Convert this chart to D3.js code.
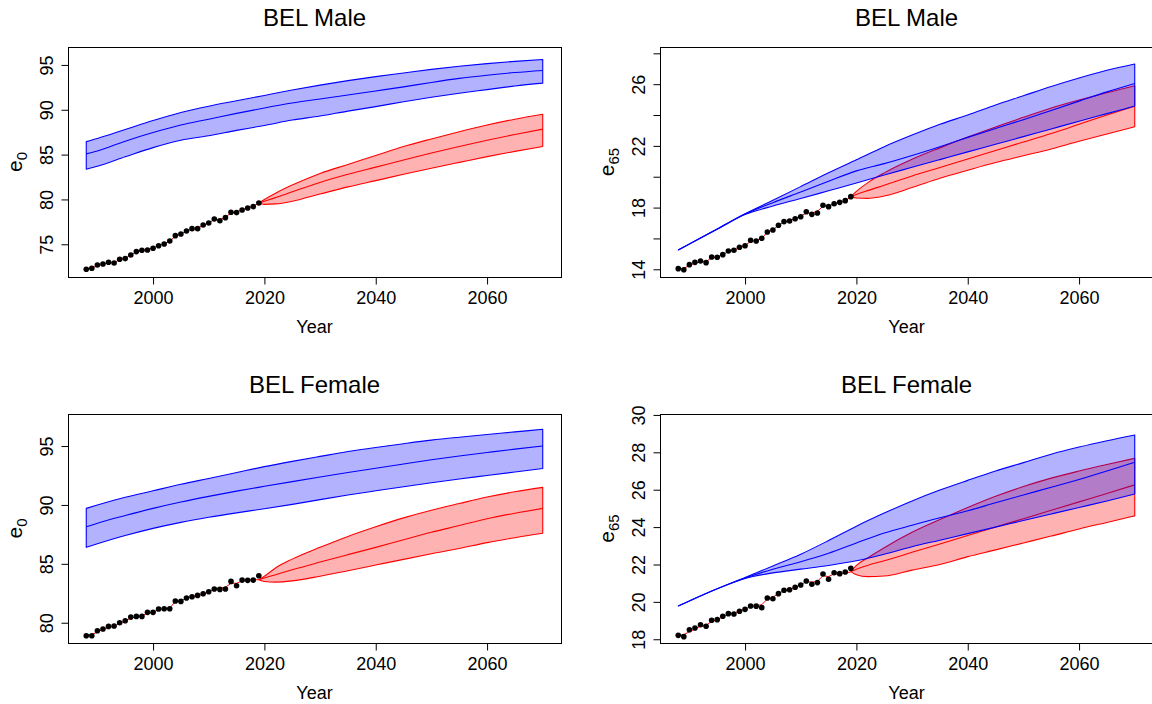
<!DOCTYPE html>
<html>
<head>
<meta charset="utf-8">
<script src="https://cdn.jsdelivr.net/npm/d3@7"></script>
<style>
  body { margin: 0; background: #fff; }
  svg { display: block; }
  text { font-family: "Liberation Sans", Arial, sans-serif; fill: #000; }
</style>
</head>
<body>
<svg width="1152" height="704"></svg>
<script>
const obsYears = [1988, 1989, 1990, 1991, 1992, 1993, 1994, 1995, 1996, 1997, 1998, 1999, 2000, 2001, 2002, 2003,
  2004, 2005, 2006, 2007, 2008, 2009, 2010, 2011, 2012, 2013, 2014, 2015, 2016, 2017, 2018, 2019];
const bandYears = [1988, 1990, 1995, 2000, 2005, 2010, 2015, 2020, 2025, 2030, 2035, 2040, 2045, 2050, 2055, 2060, 2065, 2070];
const fcstYears = [2019, 2020, 2022, 2025, 2030, 2035, 2040, 2045, 2050, 2055, 2060, 2065, 2070];
const xTicks = [2000, 2020, 2040, 2060];

// BEL Male, e0
const maleE0Obs = [72.21, 72.32, 72.69, 72.8, 72.99, 72.91, 73.33, 73.4, 73.81, 74.18, 74.33, 74.36, 74.55, 74.84, 75.03, 75.37,
  75.96, 76.15, 76.48, 76.74, 76.74, 77.15, 77.38, 77.82, 77.63, 77.97, 78.57, 78.53, 78.83, 79.05, 79.2, 79.61];
const maleE0Fit = [72.25, 72.35, 72.6, 72.8, 72.9, 72.95, 73.3, 73.45, 73.8, 74.1, 74.3, 74.4, 74.6, 74.85, 75.05, 75.35,
  75.9, 76.15, 76.45, 76.7, 76.8, 77.1, 77.4, 77.75, 77.75, 78.0, 78.5, 78.6, 78.85, 79.05, 79.25, 79.6];
const maleE0BlueHi = [86.45, 86.8, 87.8, 88.8, 89.7, 90.4, 91.0, 91.6, 92.2, 92.75, 93.25, 93.7, 94.1, 94.5, 94.85, 95.15, 95.4, 95.6];
const maleE0BlueMed = [85.08, 85.4, 86.5, 87.46, 88.3, 88.95, 89.6, 90.2, 90.75, 91.2, 91.65, 92.1, 92.55, 93.05, 93.5, 93.85, 94.15, 94.38];
const maleE0BlueLo = [83.37, 83.7, 84.75, 85.78, 86.6, 87.1, 87.7, 88.25, 88.85, 89.3, 89.85, 90.35, 90.9, 91.4, 91.85, 92.25, 92.65, 92.97];
const maleE0RedHi = [79.6, 80.0, 80.7, 81.6, 82.9, 83.9, 84.9, 85.9, 86.75, 87.55, 88.3, 88.95, 89.5];
const maleE0RedMed = [79.6, 79.8, 80.2, 80.85, 81.9, 82.8, 83.6, 84.4, 85.17, 85.9, 86.6, 87.25, 87.84];
const maleE0RedLo = [79.6, 79.45, 79.5, 79.8, 80.6, 81.4, 82.1, 82.8, 83.48, 84.13, 84.77, 85.36, 85.9];

// BEL Male, e65
const maleE65Obs = [14.04, 13.97, 14.3, 14.45, 14.54, 14.43, 14.8, 14.78, 14.95, 15.19, 15.23, 15.43, 15.53, 15.88, 15.83, 16.01,
  16.42, 16.55, 16.85, 17.09, 17.13, 17.28, 17.41, 17.73, 17.56, 17.65, 18.15, 18.06, 18.25, 18.34, 18.45, 18.71];
const maleE65Fit = [14.05, 14.05, 14.25, 14.4, 14.5, 14.5, 14.75, 14.8, 14.95, 15.15, 15.25, 15.4, 15.55, 15.8, 15.85, 16.0,
  16.4, 16.55, 16.85, 17.05, 17.15, 17.3, 17.45, 17.65, 17.65, 17.75, 18.1, 18.1, 18.25, 18.35, 18.45, 18.7];
const maleE65BlueHi = [15.25, 15.64, 16.62, 17.6, 18.47, 19.36, 20.26, 21.1, 21.95, 22.7, 23.4, 24.0, 24.65, 25.25, 25.85, 26.4, 26.9, 27.31];
const maleE65BlueMed = [15.25, 15.64, 16.61, 17.58, 18.32, 19.01, 19.71, 20.38, 20.85, 21.38, 21.95, 22.55, 23.13, 23.7, 24.3, 24.9, 25.5, 26.05];
const maleE65BlueLo = [15.25, 15.64, 16.6, 17.55, 18.1, 18.59, 19.09, 19.59, 20.11, 20.61, 21.11, 21.61, 22.1, 22.6, 23.1, 23.6, 24.09, 24.58];
const maleE65RedHi = [18.71, 19.05, 19.6, 20.25, 21.13, 21.87, 22.57, 23.23, 23.85, 24.46, 24.98, 25.45, 25.9];
const maleE65RedMed = [18.71, 18.85, 19.1, 19.45, 20.05, 20.6, 21.15, 21.7, 22.25, 22.8, 23.4, 24.0, 24.58];
const maleE65RedLo = [18.71, 18.62, 18.6, 18.75, 19.3, 19.9, 20.42, 20.92, 21.36, 21.8, 22.3, 22.77, 23.24];

// BEL Female, e0
const femaleE0Obs = [78.9, 78.9, 79.32, 79.47, 79.69, 79.72, 80.0, 80.17, 80.48, 80.54, 80.54, 80.88, 80.88, 81.16, 81.19, 81.19,
  81.84, 81.81, 82.1, 82.21, 82.32, 82.46, 82.63, 82.86, 82.83, 82.86, 83.51, 83.14, 83.62, 83.6, 83.62, 83.99];
const femaleE0Fit = [78.95, 79.0, 79.2, 79.45, 79.6, 79.7, 79.95, 80.15, 80.4, 80.5, 80.6, 80.8, 80.9, 81.1, 81.2, 81.25,
  81.8, 81.85, 82.1, 82.2, 82.3, 82.45, 82.6, 82.9, 82.95, 83.0, 83.35, 83.35, 83.55, 83.6, 83.65, 83.65];
const femaleE0BlueHi = [89.71, 90.0, 90.65, 91.2, 91.75, 92.25, 92.75, 93.25, 93.7, 94.12, 94.53, 94.88, 95.2, 95.5, 95.75, 95.98, 96.2, 96.42];
const femaleE0BlueMed = [88.15, 88.45, 89.1, 89.71, 90.25, 90.73, 91.17, 91.58, 91.98, 92.37, 92.75, 93.12, 93.48, 93.83, 94.15, 94.45, 94.74, 95.0];
const femaleE0BlueLo = [86.4, 86.7, 87.4, 88.01, 88.52, 88.95, 89.33, 89.68, 90.05, 90.45, 90.84, 91.2, 91.55, 91.88, 92.2, 92.5, 92.8, 93.1];
const femaleE0RedHi = [83.65, 83.95, 84.65, 85.4, 86.4, 87.33, 88.15, 88.9, 89.55, 90.12, 90.67, 91.12, 91.49];
const femaleE0RedMed = [83.65, 83.8, 84.08, 84.5, 85.15, 85.78, 86.4, 87.05, 87.68, 88.25, 88.83, 89.3, 89.71];
const femaleE0RedLo = [83.65, 83.5, 83.45, 83.55, 83.95, 84.42, 84.9, 85.38, 85.85, 86.3, 86.8, 87.22, 87.59];

// BEL Female, e65
const femaleE65Obs = [18.21, 18.14, 18.51, 18.6, 18.78, 18.7, 19.02, 19.05, 19.23, 19.37, 19.35, 19.5, 19.6, 19.78, 19.77, 19.69,
  20.21, 20.17, 20.44, 20.62, 20.65, 20.78, 20.9, 21.12, 20.94, 21.03, 21.49, 21.21, 21.56, 21.51, 21.6, 21.8];
const femaleE65Fit = [18.2, 18.25, 18.4, 18.55, 18.7, 18.75, 18.95, 19.05, 19.2, 19.35, 19.4, 19.5, 19.6, 19.75, 19.8, 19.85,
  20.15, 20.25, 20.45, 20.6, 20.65, 20.8, 20.9, 21.1, 21.05, 21.1, 21.4, 21.35, 21.5, 21.5, 21.55, 21.6];
const femaleE65BlueHi = [19.78, 20.05, 20.7, 21.3, 21.92, 22.55, 23.28, 24.05, 24.75, 25.4, 25.98, 26.5, 27.0, 27.45, 27.9, 28.28, 28.62, 28.93];
const femaleE65BlueMed = [19.78, 20.05, 20.7, 21.28, 21.75, 22.15, 22.6, 23.15, 23.68, 24.1, 24.5, 24.87, 25.3, 25.72, 26.13, 26.55, 27.0, 27.47];
const femaleE65BlueLo = [19.78, 20.05, 20.7, 21.25, 21.55, 21.75, 21.95, 22.2, 22.55, 22.95, 23.3, 23.65, 24.0, 24.35, 24.7, 25.05, 25.4, 25.77];
const femaleE65RedHi = [21.62, 21.95, 22.35, 22.9, 23.72, 24.4, 25.05, 25.65, 26.17, 26.62, 27.0, 27.35, 27.68];
const femaleE65RedMed = [21.62, 21.75, 21.95, 22.2, 22.65, 23.1, 23.55, 24.0, 24.45, 24.9, 25.35, 25.8, 26.26];
const femaleE65RedLo = [21.62, 21.45, 21.35, 21.38, 21.7, 22.0, 22.42, 22.78, 23.15, 23.52, 23.9, 24.25, 24.6];

const e0Ticks = [75, 80, 85, 90, 95];
const e0FemTicks = [80, 85, 90, 95];
const e65MaleTicks = [14, 16, 18, 20, 22, 24, 26, 28];
const e65MaleLabels = [14, 18, 22, 26];
const e65FemTicks = [18, 20, 22, 24, 26, 28, 30];

const svg = d3.select("svg");
const xlim = [1984.72, 2073.28];

const zip = (xs, ...cols) => xs.map((yr, i) => ({ year: yr, v: cols.map((c) => c[i]) }));

const panels = [
  { title: "BEL Male", sub: "0", left: 68, right: 561, top: 47, bottom: 277, ylim: [71.35, 97.0],
    ticks: e0Ticks, labels: e0Ticks, obs: maleE0Obs, fit: maleE0Fit,
    blue: zip(bandYears, maleE0BlueLo, maleE0BlueMed, maleE0BlueHi),
    red: zip(fcstYears, maleE0RedLo, maleE0RedMed, maleE0RedHi) },
  { title: "BEL Male", sub: "65", left: 660, right: 1153, top: 47, bottom: 277, ylim: [13.5, 28.41],
    ticks: e65MaleTicks, labels: e65MaleLabels, obs: maleE65Obs, fit: maleE65Fit,
    blue: zip(bandYears, maleE65BlueLo, maleE65BlueMed, maleE65BlueHi),
    red: zip(fcstYears, maleE65RedLo, maleE65RedMed, maleE65RedHi) },
  { title: "BEL Female", sub: "0", left: 68, right: 561, top: 414, bottom: 643, ylim: [78.28, 97.72],
    ticks: e0FemTicks, labels: e0FemTicks, obs: femaleE0Obs, fit: femaleE0Fit,
    blue: zip(bandYears, femaleE0BlueLo, femaleE0BlueMed, femaleE0BlueHi),
    red: zip(fcstYears, femaleE0RedLo, femaleE0RedMed, femaleE0RedHi) },
  { title: "BEL Female", sub: "65", left: 660, right: 1153, top: 414, bottom: 643, ylim: [17.8, 30.05],
    ticks: e65FemTicks, labels: e65FemTicks, obs: femaleE65Obs, fit: femaleE65Fit,
    blue: zip(bandYears, femaleE65BlueLo, femaleE65BlueMed, femaleE65BlueHi),
    red: zip(fcstYears, femaleE65RedLo, femaleE65RedMed, femaleE65RedHi) },
];

const drawBand = (g, x, y, rows, col, fill) => {
  const area = d3.area().curve(d3.curveMonotoneX)
    .x((d) => x(d.year)).y0((d) => y(d.v[0])).y1((d) => y(d.v[2]));
  const mid = d3.line().curve(d3.curveMonotoneX).x((d) => x(d.year)).y((d) => y(d.v[1]));
  g.append("path").attr("d", area(rows)).attr("fill", fill)
    .attr("stroke", col).attr("stroke-width", 1.1).attr("stroke-linejoin", "round");
  g.append("path").attr("d", mid(rows)).attr("fill", "none")
    .attr("stroke", col).attr("stroke-width", 1.1);
};

panels.forEach((p) => {
  const x = d3.scaleLinear().domain(xlim).range([p.left, p.right]);
  const y = d3.scaleLinear().domain(p.ylim).range([p.bottom, p.top]);
  const g = svg.append("g");

  drawBand(g, x, y, p.red, "#ff0000", "rgba(255,0,0,0.3)");
  drawBand(g, x, y, p.blue, "#0000ff", "rgba(0,0,255,0.3)");

  const fitLine = d3.line().x((d, i) => x(obsYears[i])).y((d) => y(d));
  g.append("path").attr("d", fitLine(p.fit)).attr("fill", "none")
    .attr("stroke", "#ff0000").attr("stroke-width", 1);

  g.selectAll("circle.obs").data(p.obs).enter().append("circle")
    .attr("class", "obs")
    .attr("cx", (d, i) => x(obsYears[i]))
    .attr("cy", (d) => y(d))
    .attr("r", 2.8)
    .attr("fill", "#000");

  // box
  g.append("rect")
    .attr("x", p.left + 0.5).attr("y", p.top + 0.5)
    .attr("width", p.right - p.left).attr("height", p.bottom - p.top)
    .attr("fill", "none").attr("stroke", "#000").attr("stroke-width", 1);

  const xAxis = g.append("g").attr("transform", `translate(0,${p.bottom + 0.5})`)
    .call(d3.axisBottom(x).tickValues(xTicks).tickSize(7).tickPadding(7).tickFormat(d3.format("d")));
  xAxis.select(".domain").remove();
  xAxis.selectAll("text").attr("font-size", 18).attr("font-family", "Liberation Sans, Arial, sans-serif");

  const yAxis = g.append("g").attr("transform", `translate(${p.left + 0.5},0)`)
    .call(d3.axisLeft(y).tickValues(p.ticks).tickSize(7)
      .tickFormat((d) => (p.labels.includes(d) ? d3.format("d")(d) : "")));
  yAxis.select(".domain").remove();
  yAxis.selectAll("text")
    .attr("font-size", 18).attr("font-family", "Liberation Sans, Arial, sans-serif")
    .attr("text-anchor", "middle")
    .attr("x", 0).attr("y", -16).attr("dy", null)
    .attr("transform", "rotate(-90)");

  const cx = (p.left + p.right) / 2;
  g.append("text").attr("x", cx).attr("y", p.top - 21)
    .attr("text-anchor", "middle").attr("font-size", 24).text(p.title);
  g.append("text").attr("x", cx).attr("y", p.bottom + 56)
    .attr("text-anchor", "middle").attr("font-size", 18).text("Year");

  const yl = g.append("text")
    .attr("transform", `translate(${p.left - 46},${(p.top + p.bottom) / 2}) rotate(-90)`)
    .attr("text-anchor", "middle").attr("font-size", 21);
  yl.append("tspan").text("e");
  yl.append("tspan").attr("font-size", 15).attr("dy", 5).text(p.sub);
});
</script>
</body>
</html>
